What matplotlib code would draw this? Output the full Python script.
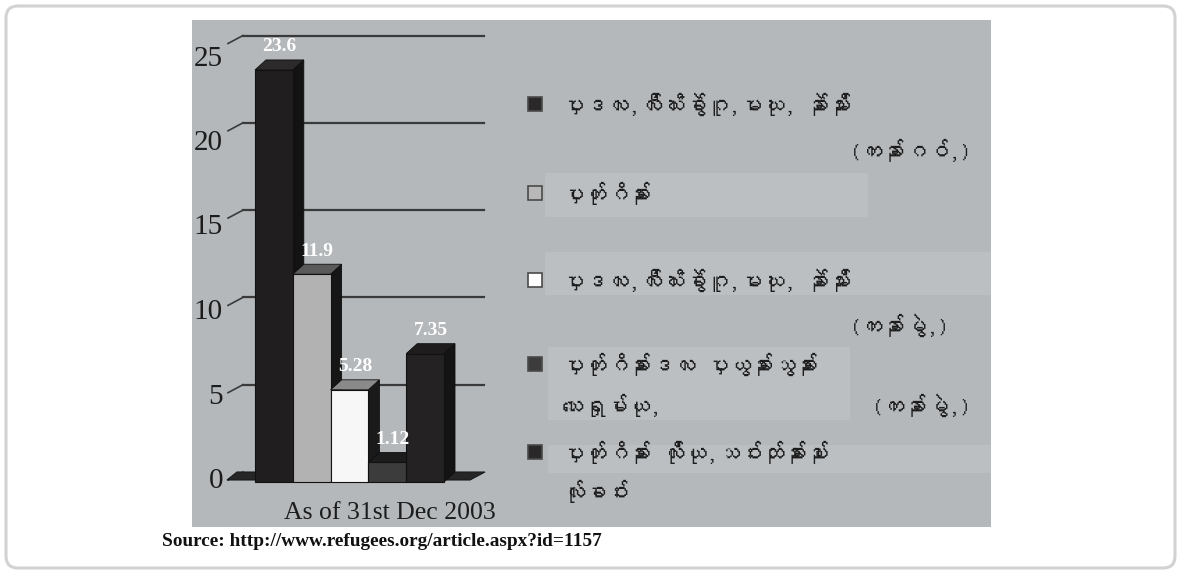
import matplotlib
matplotlib.use("Agg")
import matplotlib.pyplot as plt
from matplotlib import font_manager
from matplotlib.ft2font import FT2Font
from matplotlib.patches import Rectangle, Polygon, FancyBboxPatch

# data
values = [23.6, 11.9, 5.28, 1.12, 7.35]
value_labels = ["23.6", "11.9", "5.28", "1.12", "7.35"]
y_ticks = [0, 5, 10, 15, 20, 25]
date_note = "As of 31st Dec 2003"
source_note = "Source: http://www.refugees.org/article.aspx?id=1157"

# legend entries (Sgaw Karen), second line and its bracketed unit
legend_line1 = [
    "ပှၤဒလၢ,လီၢ်ဃံၢ်ခွဲၢ်ဂူ,မၤဃု, ခဲၣ်မိၣ်း",
    "ပှၤတုၢ်ဂိခၣ်း",
    "ပှၤဒလၢ,လီၢ်ဃံၢ်ခွဲၢ်ဂူ,မၤဃု, ခဲၣ်မိၣ်း",
    "ပှၤတုၢ်ဂိခၣ်းဒလၢ ပှၤယွခၣ်းသွခၣ်း",
    "ပှၤတုၢ်ဂိခၣ်း လိုၢ်ယု,သဝ်းထၣ်ခၣ်းပၢၣ်",
]
legend_line2 = ["", "", "", "သေၤရှုမ်ၢ်ယု,", "လုၢ်ခၢဝ်း"]
legend_unit = ["(ကၢခၣ်ဂဝ်,)", "", "(ကၢခၣ်မွဲ,)", "(ကၢခၣ်မွဲ,)", ""]

# styles
front_colors = ["#201e1f", "#b2b2b2", "#f7f7f7", "#3c3c3c", "#242223"]
top_colors = ["#2c2a2b", "#5a5a5a", "#8a8a8a", "#1c1c1c", "#1e1c1d"]
side_colors = ["#141314", "#161616", "#1a1a1a", "#222222", "#151414"]
marker_colors = ["#2a2829", "#b8b8b8", "#ffffff", "#3c3c3c", "#2a2829"]
panel_color = "#b4b8bb"
serif = "Liberation Serif"


def find_myanmar_font():
    for f in font_manager.fontManager.ttflist:
        try:
            if 0x1000 in FT2Font(f.fname).get_charmap():
                return f.name
        except Exception:
            pass
    return None


mm_font = find_myanmar_font()
mm_family = [mm_font, "DejaVu Sans"] if mm_font else ["Noto Sans", "DejaVu Sans"]

W, H = 1181, 574
fig = plt.figure(figsize=(W / 100, H / 100), dpi=100)
fig.patch.set_facecolor("white")

# outer rounded frame
frame = FancyBboxPatch((6, 6), W - 12, H - 12, boxstyle="round,pad=0,rounding_size=12",
                       transform=None, fc="none", ec="#d2d2d2", lw=2.2)
fig.add_artist(frame)

# chart panel (pixel layout of the reference)
PX_X, PX_Y = 37.8, 17.46        # pixels per data unit
base_px, bar0_px = 472, 255
left, right, top, bottom = 192, 991, 20, 527
ax = fig.add_axes([left / W, 1 - bottom / H, (right - left) / W, (bottom - top) / H])
ax.set_facecolor(panel_color)
ax.set_xlim(-0.5 - (bar0_px - left) / PX_X, -0.5 + (right - bar0_px) / PX_X)
ax.set_ylim(-(bottom - base_px) / PX_Y, (base_px - top) / PX_Y)
ax.set_xticks([])
ax.set_yticks([])
for s in ax.spines.values():
    s.set_visible(False)

DX, DY = 11 / PX_X, 10 / PX_Y    # depth offset of the 3-D bars


def px_x(p):
    return -0.5 + (p - bar0_px) / PX_X


# back-wall grid and the slanted ticks on the left wall
gx0, gx1, tx0 = px_x(243), px_x(484), px_x(228)
slant = 8 / PX_Y
for g in y_ticks:
    if g > 0:
        ax.plot([gx0, gx1], [g, g], color="#3a3a3a", lw=1.6, zorder=1)
    ax.plot([tx0, gx0], [g - slant, g], color="#3a3a3a", lw=1.2, zorder=1)
    off = (6 + 0.56 * g + 10) / PX_Y
    ax.text(px_x(223), g - off, str(g), ha="right", va="baseline",
            fontsize=21, family=serif, color="#1c1c1c")

# floor
floor = Polygon([(px_x(227), -slant), (px_x(470), -slant), (px_x(485), 0), (px_x(237), 0)],
                closed=True, fc="#262626", ec="#1a1a1a", lw=0.8, zorder=2)
ax.add_patch(floor)

# 3-D bars
for i, v in enumerate(values):
    x0, x1 = i - 0.5, i + 0.5
    z = 3 + i
    ax.add_patch(Polygon([(x1, -DY), (x1 + DX, 0), (x1 + DX, v), (x1, v - DY)],
                         closed=True, fc=side_colors[i], ec="#0e0e0e", lw=0.6, zorder=z))
    ax.add_patch(Polygon([(x0, v - DY), (x1, v - DY), (x1 + DX, v), (x0 + DX, v)],
                         closed=True, fc=top_colors[i], ec="#0e0e0e", lw=0.6, zorder=z))
    ax.add_patch(Rectangle((x0, -DY), 1, v, fc=front_colors[i], ec="#111111", lw=0.8, zorder=z))
    ax.text(i + 0.15, v + 0.75, value_labels[i], ha="center", va="center",
            fontsize=14, fontweight="bold", family=serif, color="white", zorder=10)

ax.text(px_x(390), (base_px - 513) / PX_Y, date_note, ha="center", va="center",
        fontsize=18.5, family=serif, color="#1c1c1c")

# legend (slightly lighter bands behind some rows)
bands = [(545, 173, 868, 217), (545, 252, 991, 295), (548, 347, 850, 420), (548, 445, 991, 473)]
for bx0, by0, bx1, by1 in bands:
    fig.add_artist(Rectangle((bx0 / W, 1 - by1 / H), (bx1 - bx0) / W, (by1 - by0) / H,
                             transform=fig.transFigure, fc="#bbbfc2", ec="none", zorder=1))

row_y = [104, 193, 280, 364, 452]
row2_y = [150, 0, 325, 405, 491]
unit_x = [850, 0, 850, 872, 0]
mm_size = 16
for k in range(len(legend_line1)):
    y = row_y[k]
    fig.add_artist(Rectangle((528 / W, 1 - (y + 7) / H), 14 / W, 14 / H, transform=fig.transFigure,
                             fc=marker_colors[k], ec="#4a4a4a", lw=1.2, zorder=3))
    fig.text(562 / W, 1 - y / H, legend_line1[k], ha="left", va="center",
             fontsize=mm_size, family=mm_family, color="#1c1c1c", zorder=4)
    if legend_line2[k]:
        fig.text(562 / W, 1 - row2_y[k] / H, legend_line2[k], ha="left", va="center",
                 fontsize=mm_size, family=mm_family, color="#1c1c1c", zorder=4)
    if legend_unit[k]:
        fig.text(unit_x[k] / W, 1 - row2_y[k] / H, legend_unit[k], ha="left", va="center",
                 fontsize=mm_size, family=mm_family, color="#1c1c1c", zorder=4)

fig.text(162 / W, 1 - 542 / H, source_note, ha="left", va="center",
         fontsize=13.9, fontweight="bold", family=serif, color="#111111")

fig.savefig("out.png", dpi=100, facecolor="white")
